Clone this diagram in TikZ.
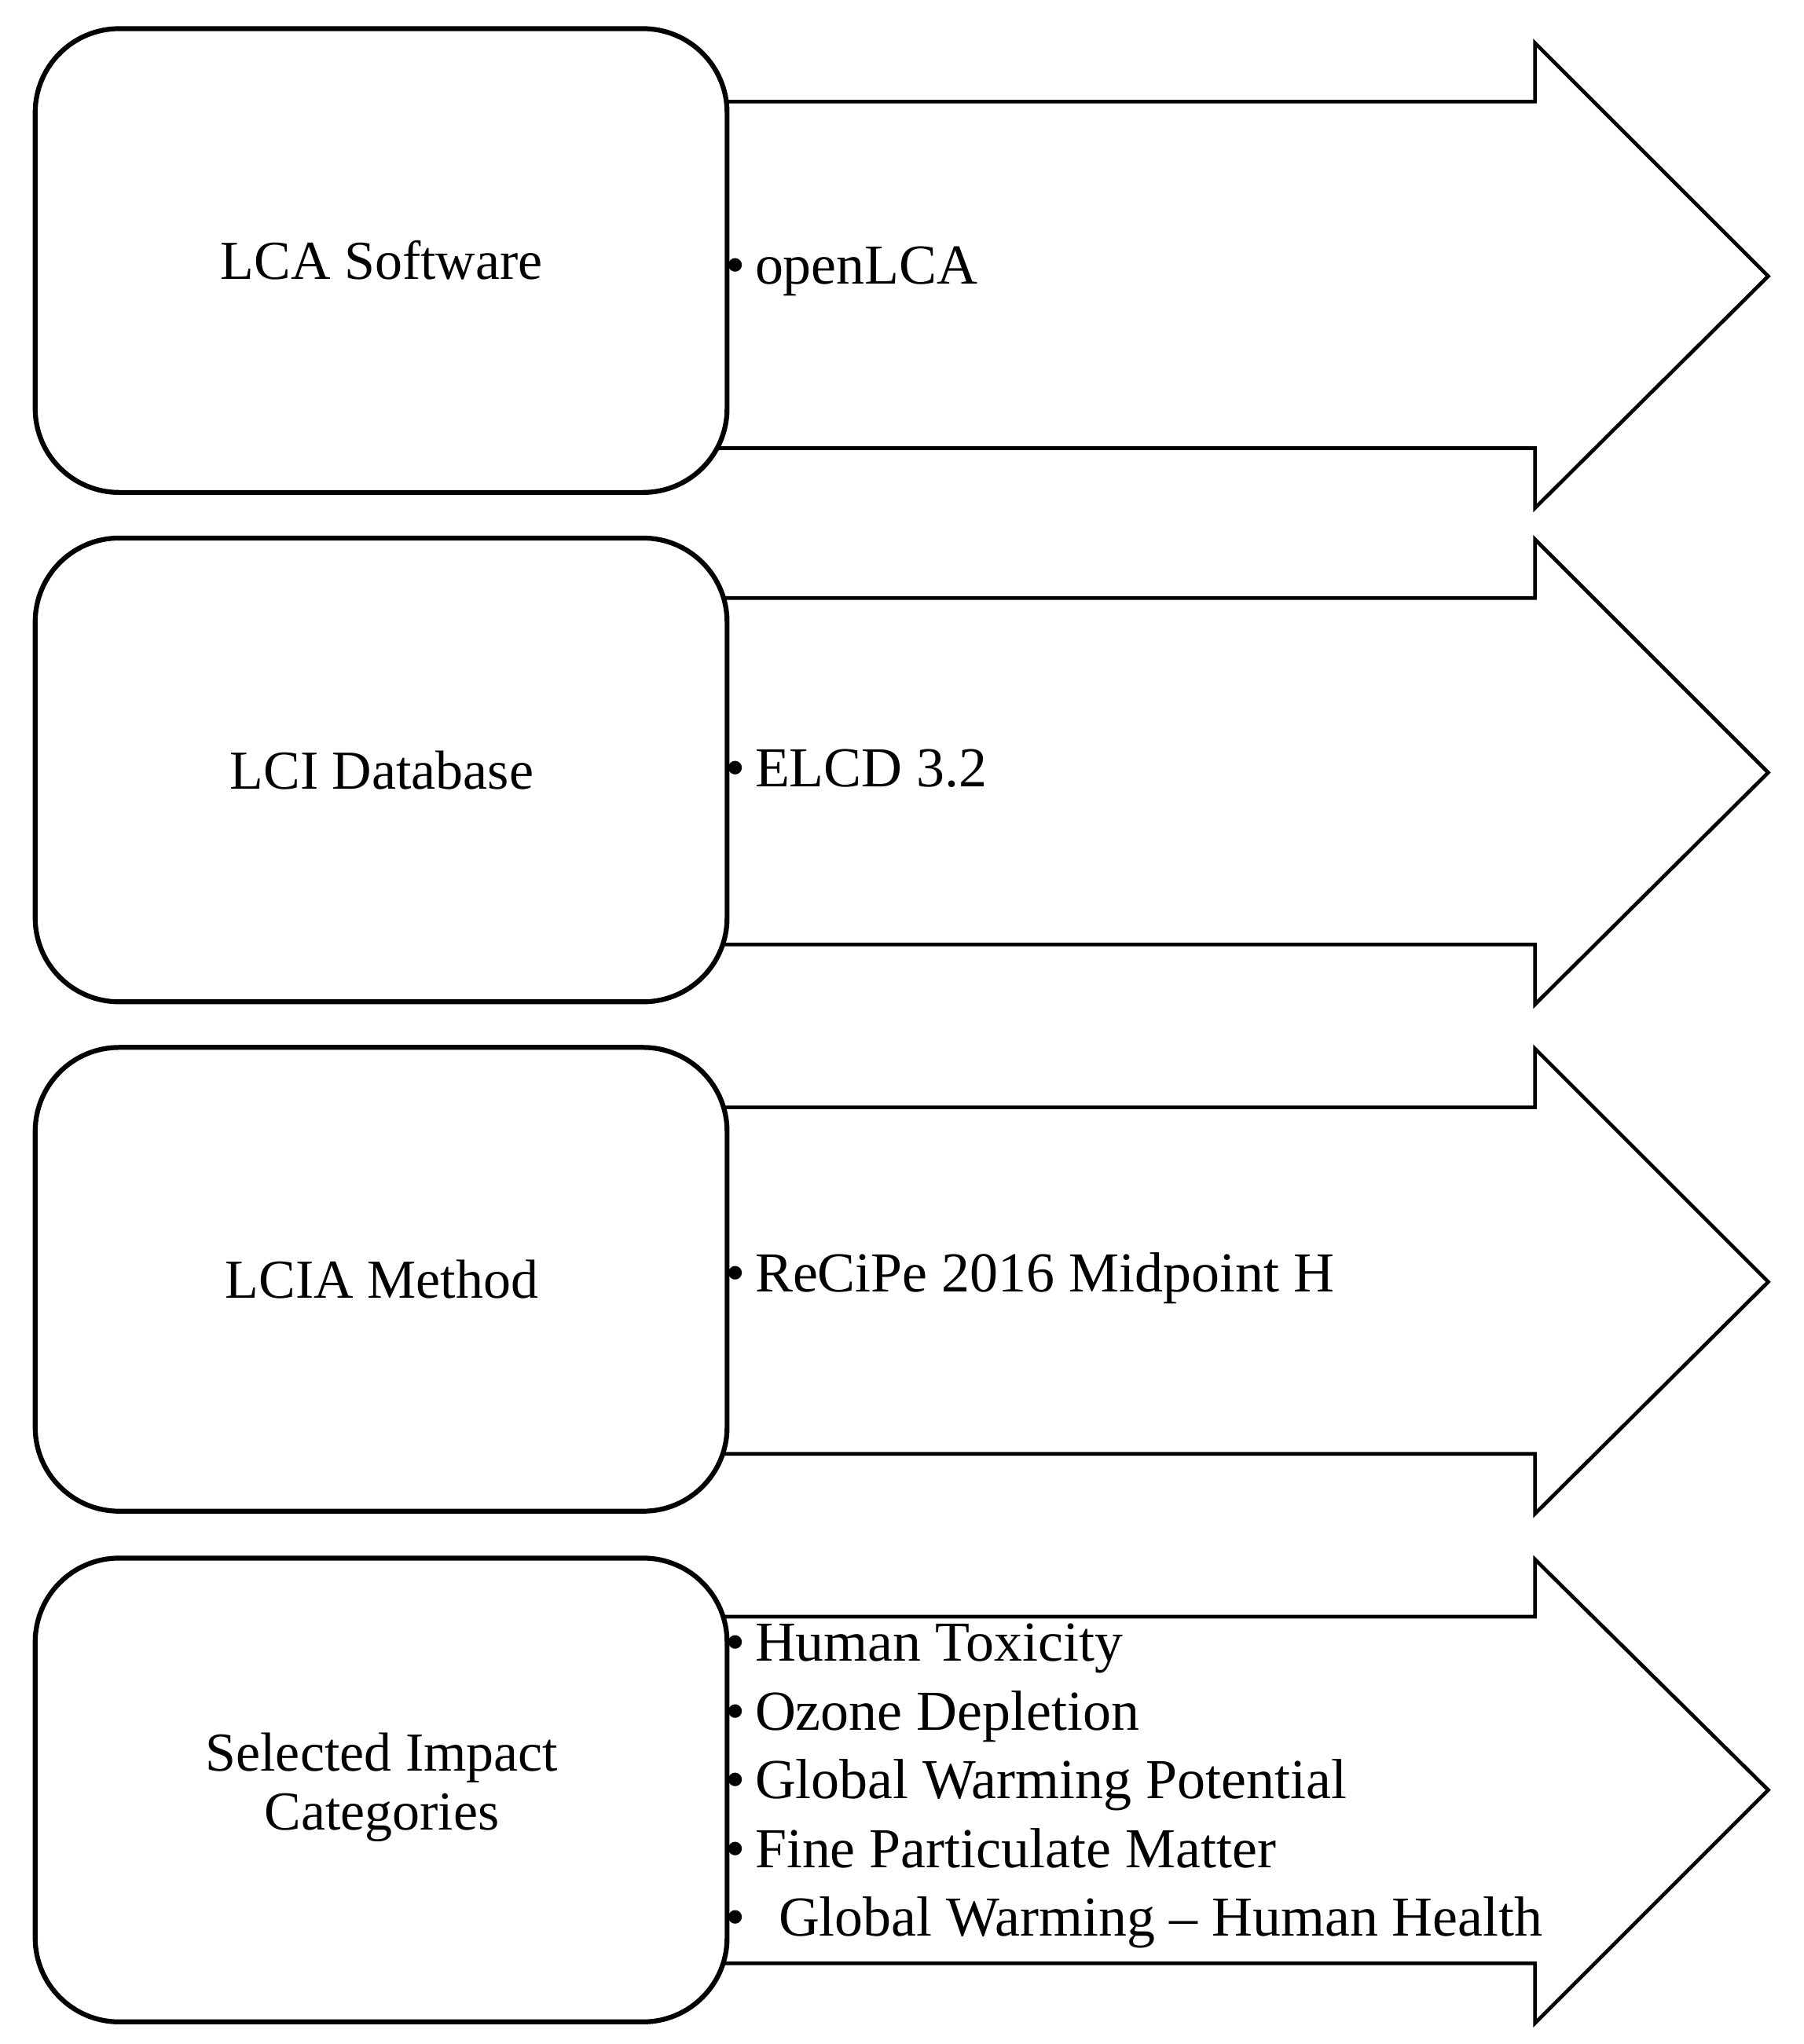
\documentclass[tikz,border=0pt]{standalone}
\usepackage{fontspec}
\setmainfont{Liberation Serif}
\begin{document}
\begin{tikzpicture}[x=0.03cm,y=-0.03cm,
 box/.style={draw,line width=3.2pt,rounded corners=55,fill=white},
 arr/.style={draw,line width=2.4pt,fill=white},
 ttl/.style={font=\fontsize{36}{40}\selectfont,align=center},
 itm/.style={font=\fontsize{37}{45}\selectfont,anchor=west,align=left}]
\useasboundingbox (0,0) rectangle (1384,1569);
\foreach \i/\a/\o/\ty/\t/\b in {0/0/0/208/LCA Software/{\textbullet\,openLCA},1/381/391/590/LCI Database/{\textbullet\,ELCD 3.2},2/772/782/981/LCIA Method/{\textbullet\,ReCiPe 2016 Midpoint H}}{
 \draw[arr] (540,78+\a) -- (1178,78+\a) -- (1178,33+\a) -- (1357,212+\a) -- (1178,390+\a) -- (1178,344+\a) -- (540,344+\a);
 \node[box,minimum width=531*0.03cm,minimum height=356*0.03cm] (b\i) at (292.5,200+\o) {};
 \node[ttl] (t\i) at (293,200+\o) {\t};
 \node[itm] (l\i) at (553,\ty) {\b};
}
\draw[arr] (540,1241) -- (1178,1241) -- (1178,1197) -- (1357,1374) -- (1178,1553) -- (1178,1507) -- (540,1507);
\node[box,minimum width=531*0.03cm,minimum height=356*0.03cm] (b3) at (292.5,1374) {};
\node[ttl,font=\fontsize{36}{39}\selectfont] (t3) at (293,1372) {Selected Impact\\Categories};
\node[itm] (l3) at (553,1371) {\textbullet\,Human Toxicity\\\textbullet\,Ozone Depletion\\\textbullet\,Global Warming Potential\\\textbullet\,Fine Particulate Matter\\\textbullet\, \,Global Warming -- Human Health};
\end{tikzpicture}
\end{document}
